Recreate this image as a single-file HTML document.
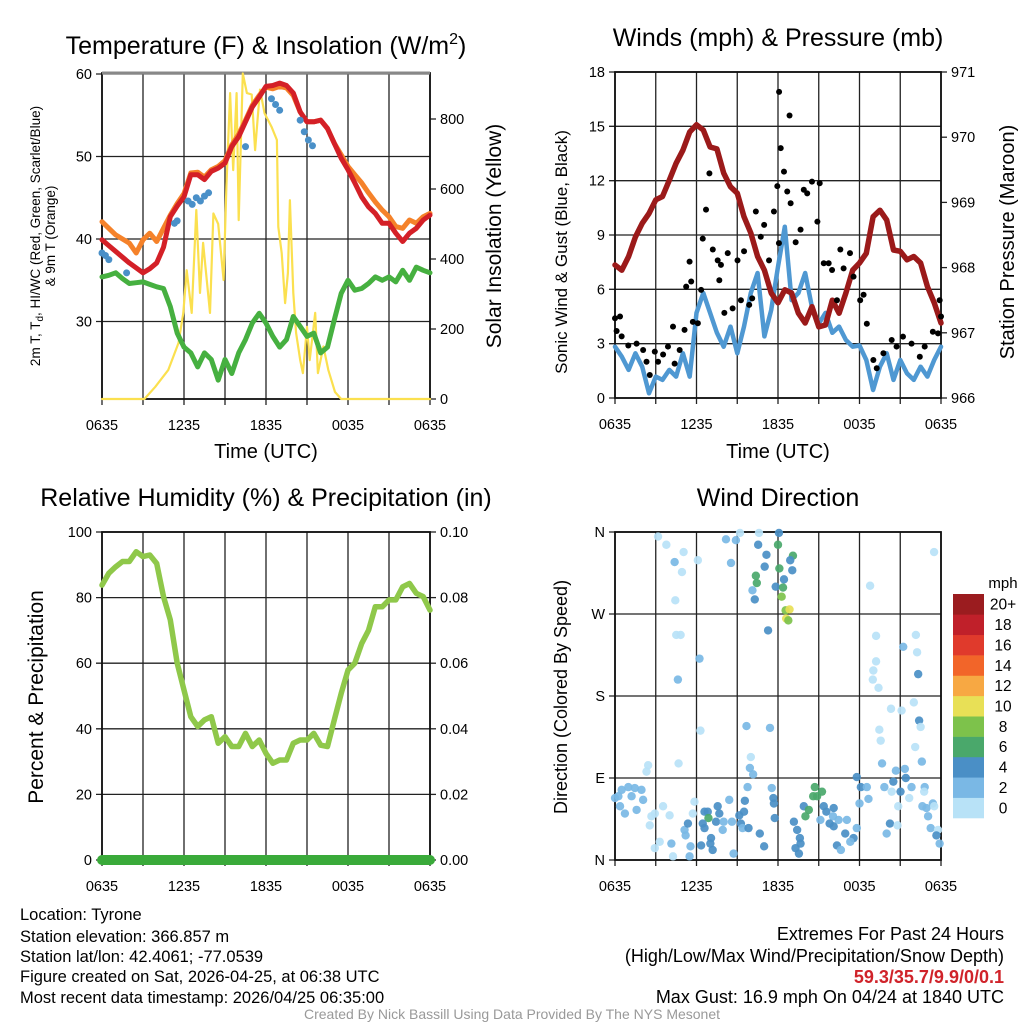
<!DOCTYPE html>
<html><head><meta charset="utf-8">
<style>
html,body{margin:0;padding:0;background:#fff;}
svg{display:block;font-family:"Liberation Sans",Arial,sans-serif;}
</style></head>
<body>
<svg id="svg" width="1024" height="1024" viewBox="0 0 1024 1024">
<rect width="1024" height="1024" fill="#fff"/>
<g id="layer"></g>
<!-- titles -->
<text x="266" y="54" font-size="25" text-anchor="middle">Temperature (F) &amp; Insolation (W/m<tspan font-size="16" dy="-10">2</tspan><tspan dy="10">)</tspan></text>
<text x="778" y="46" font-size="25" text-anchor="middle">Winds (mph) &amp; Pressure (mb)</text>
<text x="266" y="506" font-size="25" text-anchor="middle">Relative Humidity (%) &amp; Precipitation (in)</text>
<text x="778" y="506" font-size="25" text-anchor="middle">Wind Direction</text>
<text x="266" y="458" font-size="20" text-anchor="middle">Time (UTC)</text>
<text x="778" y="458" font-size="20" text-anchor="middle">Time (UTC)</text>
<text transform="translate(40,236) rotate(-90)" font-size="13.5" text-anchor="middle">2m T, T<tspan font-size="10" dy="3">d</tspan><tspan dy="-3">, HI/WC (Red, Green, Scarlet/Blue)</tspan></text>
<text transform="translate(55,236) rotate(-90)" font-size="13.5" text-anchor="middle">&amp; 9m T (Orange)</text>
<text transform="translate(501,236) rotate(-90)" font-size="21" text-anchor="middle">Solar Insolation (Yellow)</text>
<text transform="translate(567,252) rotate(-90)" font-size="17" text-anchor="middle">Sonic Wind &amp; Gust (Blue, Black)</text>
<text transform="translate(1014,242) rotate(-90)" font-size="20" text-anchor="middle">Station Pressure (Maroon)</text>
<text transform="translate(43,697) rotate(-90)" font-size="21" text-anchor="middle">Percent &amp; Precipitation</text>
<text transform="translate(567,697) rotate(-90)" font-size="18" text-anchor="middle">Direction (Colored By Speed)</text>
<text x="1003" y="588" font-size="15" text-anchor="middle">mph</text>
<!-- info -->
<g font-size="16.5">
<text x="20" y="920">Location: Tyrone</text>
<text x="20" y="942">Station elevation: 366.857 m</text>
<text x="20" y="962">Station lat/lon: 42.4061; -77.0539</text>
<text x="20" y="982">Figure created on Sat, 2026-04-25, at 06:38 UTC</text>
<text x="20" y="1003">Most recent data timestamp: 2026/04/25 06:35:00</text>
</g>
<g font-size="18" text-anchor="end">
<text x="1004" y="940">Extremes For Past 24 Hours</text>
<text x="1004" y="962">(High/Low/Max Wind/Precipitation/Snow Depth)</text>
<text x="1004" y="983" fill="#d0232a" font-weight="bold">59.3/35.7/9.9/0/0.1</text>
<text x="1004" y="1003">Max Gust: 16.9 mph On 04/24 at 1840 UTC</text>
</g>
<text x="512" y="1019" font-size="14" fill="#999" text-anchor="middle">Created By Nick Bassill Using Data Provided By The NYS Mesonet</text>
</svg>
<script>
// ---------- data ----------
const timeLabels = ["0635","1235","1835","0035","0635"];
const hh = [0,0.5,1,1.5,2,2.5,3,3.5,4,4.5,5,5.5,6,6.5,7,7.5,8,8.5,9,9.5,10,10.5,11,11.5,12,12.5,13,13.5,14,14.5,15,15.5,16,16.5,17,17.5,18,18.5,19,19.5,20,20.5,21,21.5,22,22.5,23,23.5,24];
const temp2m = [39.9,39.2,38.5,37.8,37.1,36.5,35.9,36.4,37.1,39,42.7,44,45.1,47.8,47.8,47.2,48.2,48.6,49.2,51.2,52.4,54.2,56,57.2,58.5,58.6,58.9,58.6,57.7,55.4,54.2,54.2,54.4,53.4,51.6,49.8,48.4,46.8,45.1,43.9,43.1,41.9,41.9,40.7,39.7,40.7,41.3,42.3,42.9];
const temp9m = [42.1,41.3,40.5,40,39.5,38.3,39.9,40.7,39.7,41.3,42.9,44.3,45.5,48,48.1,47.5,48.4,48.8,49.5,51.4,52.7,54.4,56.2,57.4,58.4,58.2,58.5,58.3,57.4,55.4,54.2,54.2,54.4,53.4,51.6,50.2,48.8,47.8,46.8,45.6,44.5,43.5,42.7,41.5,41.3,42.3,41.9,42.7,43.1];
const dewpt = [35.4,35.6,35.9,35.2,34.6,34.7,34.8,34.5,34.2,34,31.8,28.6,26.9,26.2,24.5,26.2,25.4,22.9,25.4,23.7,26.2,27.8,29.8,31,29.8,28.2,26.9,27.8,30.6,29.4,28.2,28.6,26.2,26.9,30.2,33.4,35,33.8,34,34.6,35.4,35,35.4,34.8,36.2,35,36.6,36.2,35.9];
const wcTimes = [0,0.25,0.5,1.8,5.3,5.5,6.3,6.6,6.9,7.2,7.5,7.8,10.5,12.4,12.7,13,14.5,14.8,15.1,15.4];
const wcVals  = [38.3,38,37.5,35.9,41.9,42.2,44.6,44.2,45,44.6,45.2,45.6,51.2,57,56.3,55.6,54.4,53,52,51.3];
const solarTimes = [0,3.1,3.9,4.85,5.6,5.95,6.2,6.56,6.9,7.17,7.4,7.9,8.15,8.5,8.9,9.1,9.37,9.6,9.85,10,10.3,10.6,10.95,11.2,11.56,11.9,12.4,12.8,12.9,13.15,13.4,13.6,13.75,14,14.2,14.5,14.7,15,15.2,15.6,15.8,16.2,16.56,17.05,17.5,24];
const solarVals  = [0,0,35,83,160,246,368,246,540,303,446,246,530,500,340,607,874,654,874,511,930,874,870,711,884,816,778,740,492,417,274,360,568,303,189,111,74,206,111,246,74,150,83,20,0,0];
const sonicWind = [2.83,2.28,1.55,2.47,1.73,0.26,1.18,1,1.55,1.18,2.47,1.18,4.7,5.8,4.7,3.6,2.83,3.94,2.47,3.94,5.8,6.9,3.4,4.86,7.25,9.46,5.4,5.8,6.9,5,4.1,4.7,3.6,3.94,3.2,2.83,2.9,2.1,0.44,1.73,2.47,1,2.1,1.36,1,1.73,1.18,2.1,2.83];
const pressure = [968.04,967.96,968.17,968.47,968.68,968.83,969.04,969.09,969.34,969.6,969.8,970.08,970.19,970.11,969.85,969.82,969.45,969.24,969.14,968.78,968.53,968.17,967.96,967.61,967.46,967.66,967.61,967.3,967.15,967.4,967.09,967.12,967.5,967.3,967.61,967.96,968.07,968.22,968.78,968.88,968.73,968.27,968.25,968.12,968.17,968.07,967.71,967.46,967.15];
const gustTimes = [0,0.37,0.12,0.49,0.98,1.59,2.07,2.32,2.56,2.93,3.17,3.54,3.9,4.27,4.39,4.76,5.12,5.24,5.49,5.61,5.73,6.1,6.34,6.46,6.7,6.95,7.2,7.56,7.8,7.68,8.05,8.3,8.66,9.02,9.27,9.5,9.88,10.1,10.37,10.73,10.98,11.34,11.7,11.95,12.07,12.2,12.44,12.68,12.85,12.08,12.93,13.3,13.66,13.9,14.15,14.5,14.9,15.07,15.37,15.73,15.98,16.34,16.59,16.83,17.3,17.56,18.05,18.3,18.54,19.02,19.27,19.76,20.37,20.73,21.2,21.83,22.44,22.8,23.4,23.78,23.9,24];
const gustVals  = [4.4,4.5,3.7,3.4,2.9,3.0,2.65,2.0,1.27,2.56,2.0,2.4,2.84,3.94,1.9,2.65,3.76,6.15,7.53,6.43,4.2,4.13,5.97,8.8,10.4,12.4,8.2,7.6,7.35,6.5,4.7,8.0,4.95,7.6,5.4,8.1,5.14,5.5,10.3,8.9,9.56,7.6,10.3,11.7,8.55,13.8,12.5,11.4,15.6,16.9,10.75,8.6,9.3,11.5,11.3,11.95,9.74,11.86,7.44,7.44,7.07,5.4,8.2,7.16,8.0,6.7,5.4,5.7,4.1,2.1,1.64,2.47,3.2,2.84,3.39,3.0,2.28,2.84,3.66,3.57,5.4,4.5];
const rh = [83.8,87.4,89.4,91,91,94,92.5,93,90.4,80.3,73.2,60,51.8,43.7,40.7,42.7,43.7,35.6,37.6,34.6,34.6,38.6,34.6,36.6,32.5,29.5,30.5,30.5,35.6,36.6,36.6,38.6,35,34.6,42.7,50.8,57.9,60,66,70,77.2,77.2,79.3,79.3,83.3,84.3,81.3,80.3,76.2];
const precip = [0,0];
const precipTimes = [0,24];
const dirTimes = [3.17,3.78,5.05,4.39,4.93,4.44,6.1,8.17,8.9,9.2,8.54,10.6,12.07,10.54,11.15,11.02,12,13.1,12.9,12.1,13.05,10.37,10.44,12.44,11.83,12.37,10.12,10.29,12.27,12.56,12.85,12.6,12.76,11.27,4.51,4.83,6.22,4.63,18.78,23.49,19.22,22.15,21.22,22.24,19.22,19.02,18.98,19.4,22.32,6.29,9.68,11.41,10,9.93,10.17,20.32,21.1,22,22.39,22.5,19.46,19.56,22.1,22.59,19.66,20.68,21.34,2.44,2.32,4.68,
0.49,0.98,1.46,1.95,0,0.37,0.73,1.22,1.59,2.07,0.25,2.68,2.93,3.54,4.02,2.56,3.29,2.93,4.27,4.15,5.12,5.2,5.37,5.73,5.85,5.56,5.49,6.59,6.83,6.88,6.46,6.59,7.44,7.68,7.56,8.0,7.93,7.07,7.19,7.02,6.34,8.41,8.73,8.61,9.15,9.5,9.56,9.27,9.39,9.83,9.76,10.66,10.98,11.54,11.66,11.7,11.76,13.17,13.41,13.61,13.29,13.54,13.66,13.9,14.02,14.27,14.59,14.71,14.88,15.24,15.37,15.56,16.1,16.05,15.12,15.8,16.1,16.46,17.07,16.95,17.8,17.56,17.32,16.34,16.63,17.8,18.1,18.54,18.66,18.0,19.83,20.37,20.24,20.8,20.0,20.49,21.02,21.41,21.83,21.66,20.85,22.8,22.76,22.63,22.93,23.05,23.4,23.5,23.24,23.78,23.66,23.9];
const dirDeg = [355,346,338,327,316,285,329,352,351,359,326,359,359,346,335,322,346,334,329,320,318,312,304,308,300,299,296,286,289,274,275,265,263,252,247,247,221,198,301,338,246,247,234,228,218,208,198,189,204,142,147,145,113,101,94,166,164,173,153,146,143,131,124,108,106,98,100,104,97,106,
77,80,79,77,68,59,51,70,55,66,70,48,51,59,49,38,20,13,4,18,33,27,40,51,64,15,4,53,53,46,40,35,42,51,59,42,33,24,11,18,16,66,7,42,49,53,65,40,35,35,80,29,15,79,68,62,46,42,33,24,13,7,18,59,48,55,70,80,70,75,59,53,57,48,44,40,37,44,44,29,35,24,20,16,11,91,80,80,67,62,80,75,40,38,29,86,75,90,80,68,59,80,75,59,57,48,62,59,35,33,27,18];
const dirSpeed = [1,1,1,3,1,1,1,3,3,1,3,1,5,5,5,5,7,7,5,7,5,7,7,5,5,7,3,5,9,9,11,11,9,5,1,1,3,3,1,1,1,1,3,1,1,1,1,1,5,1,3,3,1,3,3,1,1,1,5,1,1,1,1,3,3,3,3,1,1,1,
3,3,3,3,3,3,3,3,3,3,3,1,1,1,1,1,1,1,1,3,3,3,5,1,1,3,3,5,5,7,5,5,5,5,5,3,3,5,5,5,5,3,3,3,5,5,5,5,3,5,3,5,5,3,5,5,5,5,5,5,5,5,5,5,7,7,7,7,7,7,5,5,5,3,3,5,5,3,3,5,3,5,3,5,3,5,5,3,3,3,3,1,5,1,3,5,5,5,3,1,1,3,1,3,3,3,3,1,3,1,5,3,3];
const cbLabels = ["0","2","4","6","8","10","12","14","16","18","20+"];
const cbColors = ["#b8e2f7","#7ab8e5","#4a8fc6","#4aa86b","#7dc24b","#e8e056","#f7a843","#f26529","#e03a2c","#c0202a","#9b1c1f"];
const tempTicks = [30,40,50,60];
const solarTicks = [0,200,400,600,800];
const windTicks = [0,3,6,9,12,15,18];
const presTicks = [966,967,968,969,970,971];
const rhTicks = [0,20,40,60,80,100];
const prTicks = [0,0.02,0.04,0.06,0.08,0.10];
const dirTicks = [0,90,180,270,360];
const dirTickLabels = ["N","E","S","W","N"];

// ---------- helpers ----------
const NS="http://www.w3.org/2000/svg";
const layer=document.getElementById('layer');
function mk(tag,a,parent){const e=document.createElementNS(NS,tag);for(const k in a)e.setAttribute(k,a[k]);(parent||layer).appendChild(e);return e;}
function lin(d0,d1,r0,r1){return v=>r0+(v-d0)/(d1-d0)*(r1-r0);}
function pathD(xs,ys,fx,fy){return xs.map((t,i)=>(i?'L':'M')+fx(t).toFixed(1)+','+fy(ys[i]).toFixed(1)).join('');}

function panel(name,L,R,T,B,leftTicks,fyL,leftLabels,rightTicks,fyR,rightLabels){
  const fx=lin(0,24,L,R);
  const g=mk('g',{});
  
  
  for(let h=0;h<=24;h+=3){
    const ln=mk('line',{x1:fx(h),x2:fx(h),y1:T,y2:B+6,stroke:'#222','stroke-width':1.3},g);
    
    
  }
  leftTicks.forEach((v,i)=>{
    const y=fyL(v);
    const ln=mk('line',{x1:L-6,x2:R,y1:y,y2:y,stroke:'#222','stroke-width':1.3},g);
    
    
    const tx=mk('text',{x:L-10,y:y+5,'font-size':14.5,'text-anchor':'end'},g);
    tx.textContent=leftLabels[i];
    
    
  });
  rightTicks.forEach((v,i)=>{
    const y=fyR(v);
    const ln=mk('line',{x1:R,x2:R+6,y1:y,y2:y,stroke:'#222','stroke-width':1.3},g);
    
    
    if(rightLabels){
      const tx=mk('text',{x:R+10,y:y+5,'font-size':14.5},g);
      tx.textContent=rightLabels[i];
      
      
    }
  });
  timeLabels.forEach((lab,i)=>{
    const tx=mk('text',{x:fx(i*6),y:B+31,'font-size':14.5,'text-anchor':'middle'},g);
    tx.textContent=lab;
    
    
  });
  const fr=mk('rect',{x:L,y:T,width:R-L,height:B-T,fill:'none',stroke:'#111','stroke-width':1.8},g);
  
  
  return {fx,g};
}
function line(g,xs,ys,fx,fy,color,w,name){
  const p=mk('path',{d:pathD(xs,ys,fx,fy),fill:'none',stroke:color,'stroke-width':w,'stroke-linejoin':'round','stroke-linecap':'round'},g);
  
  
  return p;
}

// ---------- Temperature panel ----------
{
  const L=102,R=430,T=73,B=399;
  const fyT=lin(40,50,239,156.5);
  const fyS=lin(0,800,399,119);
  const p=panel('temperature',L,R,T,B,tempTicks,fyT,tempTicks.map(String),solarTicks,fyS,solarTicks.map(String));
  const top=mk('line',{x1:L,x2:R,y1:T,y2:T,stroke:'#888','stroke-width':3},p.g);
  
  
  line(p.g,solarTimes,solarVals,p.fx,fyS,'#fbe04f',2.2,'solar-insolation-line');
  line(p.g,hh,dewpt,p.fx,fyT,'#46b040',5,'dewpoint-line');
  line(p.g,hh,temp9m,p.fx,fyT,'#f5822a',5,'temp-9m-line');
  line(p.g,hh,temp2m,p.fx,fyT,'#d42027',5,'temp-2m-line');
  wcTimes.forEach((t,i)=>{
    const c=mk('circle',{cx:p.fx(t),cy:fyT(wcVals[i]),r:3.5,fill:'#4a90c8'},p.g);
    
    
  });
}
// ---------- Wind panel ----------
{
  const L=615,R=941,T=72,B=398;
  const fyW=lin(0,18,398,72);
  const fyP=lin(966,971,398,72);
  const p=panel('wind',L,R,T,B,windTicks,fyW,windTicks.map(String),presTicks,fyP,presTicks.map(String));
  line(p.g,hh,sonicWind,p.fx,fyW,'#4f98d2',4.5,'sonic-wind-line');
  line(p.g,hh,pressure,p.fx,fyP,'#9b1a1a',5.5,'pressure-line');
  gustTimes.forEach((t,i)=>{
    const c=mk('circle',{cx:p.fx(t),cy:fyW(gustVals[i]),r:3,fill:'#000'},p.g);
    
    
  });
}
// ---------- Humidity panel ----------
{
  const L=102,R=430,T=532,B=860;
  const fyR=lin(0,100,860,532);
  const fyPr=lin(0,0.1,860,532);
  const p=panel('humidity',L,R,T,B,rhTicks,fyR,rhTicks.map(String),prTicks,fyPr,prTicks.map(v=>v.toFixed(2)));
  line(p.g,hh,rh,p.fx,fyR,'#8fc84a',5.5,'relative-humidity-line');
  line(p.g,precipTimes,precip,p.fx,fyPr,'#3aaa3a',10,'precipitation-line');
}
// ---------- Direction panel ----------
{
  const L=615,R=941,T=532,B=860;
  const fyD=lin(0,360,860,532);
  const p=panel('direction',L,R,T,B,dirTicks,fyD,dirTickLabels,[],fyD,null);
  dirTimes.forEach((t,i)=>{
    const sp=(dirSpeed[i]===undefined)?3:dirSpeed[i];
    const idx=Math.min(10,Math.floor(sp/2));
    const c=mk('circle',{cx:p.fx(t),cy:fyD(dirDeg[i]),r:4.2,fill:cbColors[idx],'fill-opacity':0.92},p.g);
    
    
  });
  const cb=mk('g',{});
  
  
  const cbTop=594,cbH=224/11;
  cbColors.forEach((col,i)=>{
    const y=cbTop+(10-i)*cbH;
    const r=mk('rect',{x:953,y:y,width:31,height:cbH+0.3,fill:col},cb);
    
    
    const tx=mk('text',{x:1003,y:y+cbH/2+5.5,'font-size':15.5,'text-anchor':'middle'},cb);
    tx.textContent=cbLabels[i];
    
    
  });
}
</script>
</body></html>
